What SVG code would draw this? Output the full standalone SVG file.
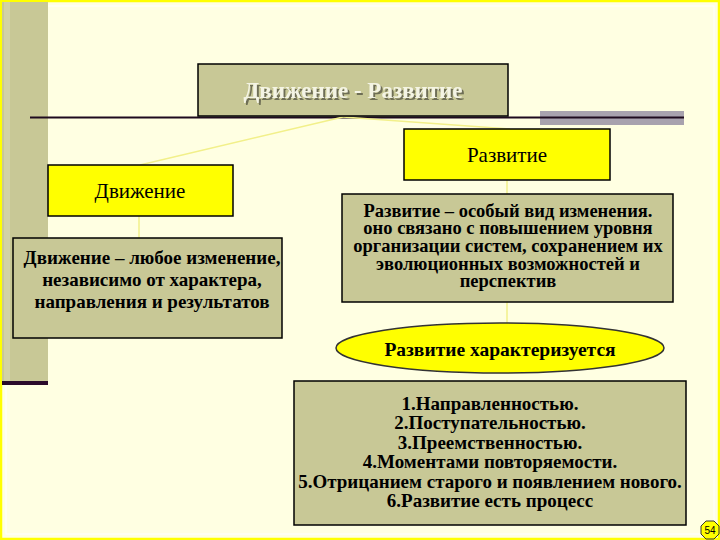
<svg xmlns="http://www.w3.org/2000/svg" width="720" height="540" viewBox="0 0 720 540">
<defs>
<filter id="sh" x="-10%" y="-30%" width="120%" height="160%">
<feDropShadow dx="2" dy="2" stdDeviation="0.6" flood-color="#6E6E55" flood-opacity="1"/>
</filter>
</defs>
<style>
.box{fill:#C8C896;stroke:#000;stroke-width:1.5}
.ybox{fill:#FFFF00;stroke:#000;stroke-width:1.5}
.con{stroke:#F2F08A;stroke-width:1.5;fill:none}
text{font-family:"Liberation Serif","Times New Roman",serif;text-anchor:middle;fill:#000}
.b{font-weight:bold;font-size:19px}
.r{font-size:21px}
</style>
<rect x="0" y="0" width="720" height="540" fill="#FFFFE2"/>
<rect x="1" y="1" width="718" height="538" fill="none" stroke="#FFFF00" stroke-width="2.5"/>
<rect x="6" y="6" width="708" height="528" fill="none" stroke="#FFFFFF" stroke-width="1"/>
<rect x="2" y="2" width="46" height="381" fill="#C8C896"/>
<rect x="4" y="2" width="6" height="381" fill="#D2D2A6"/>
<rect x="2" y="381" width="46" height="4" fill="#2A0A2A"/>
<g id="bar">
<rect x="540" y="111" width="144" height="14" fill="#A8A2AE"/>
<line x1="30" y1="117.5" x2="684" y2="117.5" stroke="#1E0A1E" stroke-width="2"/>
</g>
<g id="connectors">
<line class="con" x1="343" y1="117" x2="140" y2="165"/>
<line class="con" x1="343" y1="117" x2="510" y2="129"/>
<line class="con" x1="139" y1="216" x2="139" y2="238"/>
<line class="con" x1="507" y1="180" x2="507" y2="194"/>
<line class="con" x1="507" y1="302" x2="507" y2="323"/>
</g>
<g id="title">
<rect class="box" x="198" y="64" width="310" height="52"/>
<text x="353" y="98" filter="url(#sh)" style="font-weight:bold;font-size:23px;fill:#F4F4E4">Движение - Развитие</text>
</g>
<g id="razvitie">
<rect class="ybox" x="404" y="129" width="206" height="51"/>
<text class="r" x="507" y="162">Развитие</text>
</g>
<g id="dvizhenie">
<rect class="ybox" x="48" y="165" width="185" height="51"/>
<text class="r" x="140" y="198">Движение</text>
</g>
<g id="dvizhenie-def">
<rect class="box" x="13" y="238" width="269" height="100"/>
<text class="b" x="152" y="264">Движение – любое изменение,</text>
<text class="b" x="152" y="286">независимо от характера,</text>
<text class="b" x="152" y="308">направления и результатов</text>
</g>
<g id="razvitie-def">
<rect class="box" x="342" y="194" width="331" height="108"/>
<text class="b" x="508" y="217" style="font-size:18.5px">Развитие – особый вид изменения.</text>
<text class="b" x="508" y="234" style="font-size:18.5px">оно связано с повышением уровня</text>
<text class="b" x="508" y="252" style="font-size:18.5px">организации систем, сохранением их</text>
<text class="b" x="508" y="270" style="font-size:18.5px">эволюционных возможностей и</text>
<text class="b" x="508" y="287" style="font-size:18.5px">перспектив</text>
</g>
<g id="characterized">
<ellipse cx="500" cy="348" rx="164" ry="25" fill="#FFFF00" stroke="#333" stroke-width="1.5"/>
<text class="b" x="500" y="356" style="font-size:19.5px">Развитие характеризуется</text>
</g>
<g id="list">
<rect class="box" x="294" y="381" width="392" height="144"/>
<text class="b" x="490" y="410">1.Направленностью.</text>
<text class="b" x="490" y="429">2.Поступательностью.</text>
<text class="b" x="490" y="449">3.Преемственностью.</text>
<text class="b" x="490" y="468">4.Моментами повторяемости.</text>
<text class="b" x="490" y="488">5.Отрицанием старого и появлением нового.</text>
<text class="b" x="490" y="507">6.Развитие есть процесс</text>
</g>
<g id="page">
<polygon points="706,521 714,521 719,526 719,534 714,539 706,539 701,534 701,526" fill="#FFFF00" stroke="#333" stroke-width="1"/>
<text x="710" y="534" style="font-family:'Liberation Sans',sans-serif;font-size:10px">54</text>
</g>
</svg>
